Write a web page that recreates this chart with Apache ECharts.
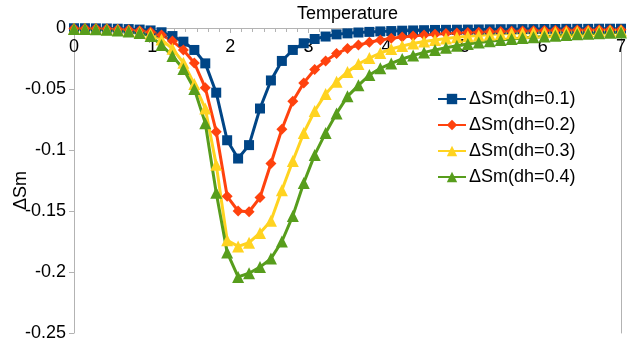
<!DOCTYPE html>
<html>
<head>
<meta charset="utf-8">
<script src="https://cdn.jsdelivr.net/npm/echarts@6/dist/echarts.min.js"></script>
<style>
html,body{margin:0;padding:0;background:#fff;}
#chart{width:638px;height:344px;}
</style>
</head>
<body>
<div id="chart"></div>
<script>
var temperature = [0,0.14,0.28,0.42,0.56,0.70,0.84,0.98,1.12,1.26,1.40,1.54,1.68,1.82,1.96,2.10,2.24,2.38,2.52,2.66,2.80,2.94,3.08,3.22,3.36,3.50,3.64,3.78,3.92,4.06,4.20,4.34,4.48,4.62,4.76,4.90,5.04,5.18,5.32,5.46,5.60,5.74,5.88,6.02,6.16,6.30,6.44,6.58,6.72,6.86,7.00];

var dSm01 = [-0.0002,-0.0002,-0.0003,-0.0004,-0.0006,-0.0009,-0.0013,-0.002,-0.0035,-0.0066,-0.0112,-0.018,-0.029,-0.053,-0.092,-0.107,-0.096,-0.066,-0.043,-0.027,-0.018,-0.0125,-0.009,-0.007,-0.0052,-0.0044,-0.0037,-0.0032,-0.0028,-0.0025,-0.0022,-0.002,-0.0018,-0.0016,-0.0015,-0.0014,-0.0013,-0.0012,-0.0011,-0.001,-0.001,-0.0009,-0.0009,-0.0008,-0.0008,-0.0007,-0.0007,-0.0007,-0.0006,-0.0006,-0.0006];

var dSm02 = [-0.0004,-0.0004,-0.0005,-0.0007,-0.001,-0.0015,-0.0022,-0.0033,-0.0057,-0.0107,-0.018,-0.0287,-0.049,-0.085,-0.138,-0.150,-0.1506,-0.139,-0.111,-0.083,-0.060,-0.045,-0.034,-0.027,-0.021,-0.0168,-0.014,-0.0117,-0.0099,-0.0085,-0.0074,-0.0065,-0.0057,-0.0051,-0.0046,-0.0041,-0.0037,-0.0034,-0.0031,-0.0028,-0.0026,-0.0024,-0.0022,-0.0021,-0.0019,-0.0018,-0.0017,-0.0016,-0.0015,-0.0014,-0.0014];

var dSm03 = [-0.0006,-0.0006,-0.0008,-0.0011,-0.0015,-0.0022,-0.0032,-0.0048,-0.0095,-0.017,-0.0285,-0.046,-0.066,-0.112,-0.174,-0.179,-0.176,-0.168,-0.158,-0.133,-0.109,-0.086,-0.068,-0.054,-0.044,-0.036,-0.0295,-0.0246,-0.0205,-0.0172,-0.0148,-0.0127,-0.011,-0.0098,-0.0086,-0.0076,-0.0068,-0.0061,-0.0054,-0.0049,-0.0044,-0.004,-0.0037,-0.0034,-0.0032,-0.003,-0.0028,-0.0026,-0.0024,-0.0023,-0.0021];

var dSm04 = [-0.0008,-0.0008,-0.001,-0.0014,-0.002,-0.0029,-0.0042,-0.0066,-0.014,-0.023,-0.0336,-0.05,-0.078,-0.135,-0.184,-0.204,-0.201,-0.196,-0.189,-0.175,-0.154,-0.127,-0.104,-0.086,-0.070,-0.056,-0.047,-0.0385,-0.033,-0.029,-0.0254,-0.0225,-0.020,-0.018,-0.0162,-0.0146,-0.0131,-0.0119,-0.0108,-0.0098,-0.009,-0.0082,-0.0075,-0.0069,-0.0063,-0.0057,-0.0052,-0.0048,-0.0043,-0.0039,-0.0036];

var seriesNames = ['ΔSm(dh=0.1)','ΔSm(dh=0.2)','ΔSm(dh=0.3)','ΔSm(dh=0.4)'];
var seriesColors = ['#004586','#ff420e','#ffd320','#579d1c'];
var seriesSymbols = ['rect','diamond','triangle','triangle'];
var seriesSizes = [10,11,12,12];
var seriesValues = [dSm01,dSm02,dSm03,dSm04];

function pairs(vals){ return temperature.map(function(t,i){ return [t, vals[i]]; }); }

var FONT = 'Liberation Sans, Arial, sans-serif';
var chart = echarts.init(document.getElementById('chart'), null, {renderer:'canvas'});
var option = {
  animation:false,
  backgroundColor:'#ffffff',
  textStyle:{fontFamily:FONT},
  grid:{left:74, right:17, top:28, bottom:11, containLabel:false, outerBoundsMode:'none'},
  legend:{
    orient:'vertical', left:437, top:90, padding:0, itemWidth:28, itemHeight:13, itemGap:8,
    data:seriesNames,
    textStyle:{fontFamily:FONT, fontSize:18, color:'#000', lineHeight:17, padding:[0,0,0,-2]}
  },
  xAxis:{
    type:'value', min:0, max:7, interval:1, position:'top',
    name:'Temperature', nameLocation:'middle', nameGap:5,
    nameTextStyle:{fontFamily:FONT, fontSize:18, color:'#000', verticalAlign:'bottom'},
    axisLine:{show:true, onZero:false, lineStyle:{color:'#b3b3b3', width:1}},
    axisTick:{show:true, inside:true, length:5, lineStyle:{color:'#b3b3b3'}},
    minorTick:{show:true, splitNumber:7, length:4, lineStyle:{color:'#b3b3b3'}},
    axisLabel:{inside:true, margin:10, fontFamily:FONT, fontSize:18, color:'#000'},
    splitLine:{show:false}
  },
  yAxis:[{
    type:'value', min:-0.25, max:0, interval:0.05,
    name:'ΔSm', nameLocation:'middle', nameGap:44, nameRotate:90, nameMoveOverlap:false,
    nameTextStyle:{fontFamily:FONT, fontSize:18, color:'#000', padding:[0,20,0,0]},
    axisLine:{show:true, lineStyle:{color:'#b3b3b3', width:1}},
    axisTick:{show:true, length:5, lineStyle:{color:'#b3b3b3'}},
    axisLabel:{margin:8, fontFamily:FONT, fontSize:18, color:'#000'},
    splitLine:{show:false}
  },{
    type:'value', min:-0.25, max:0, interval:0.05, position:'right',
    axisLine:{show:true, lineStyle:{color:'#b3b3b3', width:1}},
    axisTick:{show:false}, axisLabel:{show:false}, splitLine:{show:false}
  }],
  series: seriesNames.map(function(n,k){
    return {
      name:n, type:'line', data:pairs(seriesValues[k]),
      symbol:seriesSymbols[k], symbolSize:seriesSizes[k], showSymbol:true,
      lineStyle:{color:seriesColors[k], width:3},
      itemStyle:{color:seriesColors[k]},
      clip:false
    };
  })
};
chart.setOption(option);
</script>
</body>
</html>
